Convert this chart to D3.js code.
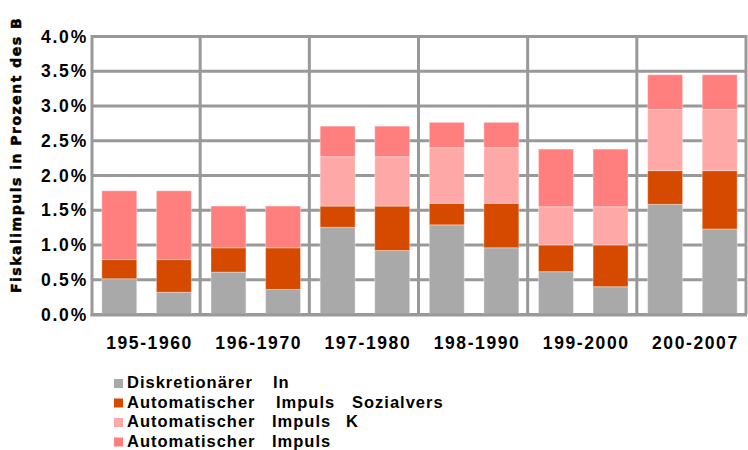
<!DOCTYPE html>
<html>
<head>
<meta charset="utf-8">
<script src="https://cdn.jsdelivr.net/npm/d3@7"></script>
<style>
  html, body { margin: 0; padding: 0; background: #fff; }
  svg { display: block; }
  text { font-family: "Liberation Sans", Arial, sans-serif; font-weight: bold; fill: #000; }
</style>
</head>
<body>
<svg id="chart" width="748" height="450"></svg>
<script>
// ---- data ----
const groupLabels = ["195-1960", "196-1970", "197-1980", "198-1990", "199-2000", "200-2007"];
const barIds = ["g1a","g1b","g2a","g2b","g3a","g3b","g4a","g4b","g5a","g5b","g6a","g6b"];
const seriesNames = [
  "Diskretionärer In",
  "Automatischer Impuls Sozialvers",
  "Automatischer Impuls K",
  "Automatischer Impuls"
];
const diskretionaer = [0.515, 0.32, 0.61, 0.36, 1.255, 0.92, 1.29, 0.96, 0.616, 0.40, 1.585, 1.23];
const autoSozial    = [0.275, 0.47, 0.35, 0.60, 0.305, 0.64, 0.31, 0.64, 0.384, 0.60, 0.485, 0.84];
const autoK         = [0, 0, 0, 0, 0.71, 0.71, 0.80, 0.80, 0.55, 0.55, 0.88, 0.88];
const autoImpuls    = [0.99, 0.99, 0.60, 0.60, 0.44, 0.44, 0.365, 0.365, 0.83, 0.83, 0.50, 0.50];
const yTicks = [0, 0.5, 1.0, 1.5, 2.0, 2.5, 3.0, 3.5, 4.0];
const yTitle = "Fiskalimpuls in Prozent des B";
const colors = ["#a9a9a9", "#d64a00", "#ffa8a8", "#ff7f7f"];

// ---- layout ----
const svg = d3.select("#chart");
const pLeft = 92, pRight = 747, pTop = 36.5, pBottom = 314.5;

const x = d3.scaleBand().domain(barIds).range([pLeft, pRight]).paddingInner(0.36).paddingOuter(0.18);
const xg = d3.scaleBand().domain(groupLabels).range([pLeft, pRight]).padding(0);
const y = d3.scaleLinear().domain([0, 4]).range([pBottom, pTop]);

const table = barIds.map((id, i) => ({
  id, s0: diskretionaer[i], s1: autoSozial[i], s2: autoK[i], s3: autoImpuls[i]
}));
const stacked = d3.stack().keys(["s0","s1","s2","s3"])(table);

// grid lines (horizontal)
svg.append("g").selectAll("line").data(yTicks).join("line")
  .attr("x1", pLeft).attr("x2", pRight - 1)
  .attr("y1", d => y(d)).attr("y2", d => y(d))
  .attr("stroke", "#999").attr("stroke-width", 3);

// vertical group lines
svg.append("g").selectAll("line").data(groupLabels).join("line")
  .attr("x1", d => xg(d) + xg.bandwidth() - 1).attr("x2", d => xg(d) + xg.bandwidth() - 1)
  .attr("y1", pTop - 1.5).attr("y2", pBottom)
  .attr("stroke", "#999").attr("stroke-width", 3);

// left axis line
svg.append("line").attr("x1", pLeft).attr("x2", pLeft)
  .attr("y1", pTop - 1.5).attr("y2", pBottom + 1.5)
  .attr("stroke", "#999").attr("stroke-width", 3);

// bars
svg.append("g").selectAll("g").data(stacked).join("g")
  .attr("fill", (d, i) => colors[i])
  .selectAll("rect").data(d => d).join("rect")
  .attr("x", d => x(d.data.id))
  .attr("width", x.bandwidth())
  .attr("y", d => y(d[1]))
  .attr("height", d => Math.max(0, y(d[0]) - y(d[1])))
  .attr("stroke", "#fff").attr("stroke-opacity", 0.35).attr("stroke-width", 1);

// bottom axis line on top
svg.append("line").attr("x1", pLeft - 1.5).attr("x2", pRight)
  .attr("y1", pBottom + 0.5).attr("y2", pBottom + 0.5)
  .attr("stroke", "#999").attr("stroke-width", 3);

// y tick labels
svg.append("g").selectAll("text").data(yTicks).join("text")
  .attr("x", 88).attr("y", d => y(d))
  .attr("text-anchor", "end").attr("dominant-baseline", "central")
  .style("font-size", "17.5px").style("letter-spacing", "1.8px")
  .text(d => d3.format(".1f")(d) + "%");

// x group labels
svg.append("g").selectAll("text").data(groupLabels).join("text")
  .attr("x", d => xg(d) + xg.bandwidth() / 2 + 3).attr("y", 348.5)
  .attr("text-anchor", "middle")
  .style("font-size", "17.5px").style("letter-spacing", "1.6px")
  .text(d => d);

// y title
svg.append("text")
  .attr("transform", "translate(21,293) rotate(-90)")
  .attr("text-anchor", "start")
  .style("font-family", "'DejaVu Sans', sans-serif")
  .style("font-size", "14px").style("letter-spacing", "1.5px")
  .style("stroke", "#000").style("stroke-width", 0.5)
  .text(yTitle);

// legend (word columns as laid out in the original)
const wordX = [[0, 146], [0, 149, 225], [0, 145, 219], [0, 145]];
const lg = svg.append("g");
const rows = lg.selectAll("g").data(seriesNames).join("g")
  .attr("transform", (d, i) => `translate(114, ${388 + i * 19.5})`);
rows.append("rect").attr("x", 0).attr("y", -9).attr("width", 9).attr("height", 9)
  .attr("fill", (d, i) => colors[i]);
rows.append("text").attr("y", 0)
  .style("font-size", "16.5px").style("letter-spacing", "1px")
  .each(function (d, i) {
    d3.select(this).selectAll("tspan").data(d.split(" ")).join("tspan")
      .attr("x", (w, j) => 13 + wordX[i][j])
      .text(w => w);
  });
</script>
</body>
</html>
